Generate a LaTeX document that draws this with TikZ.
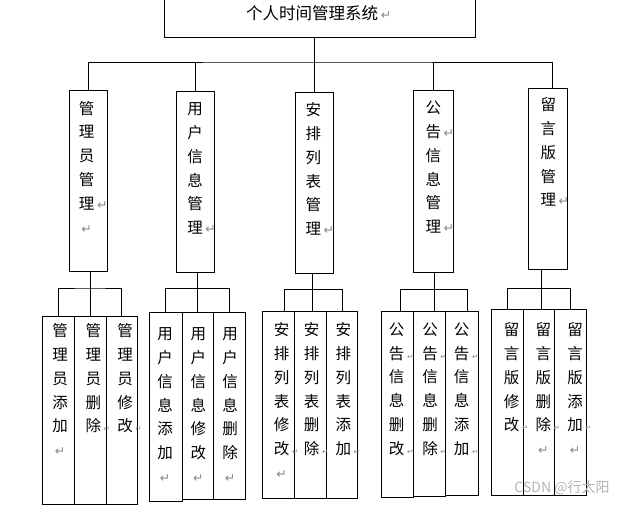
\documentclass[tikz,border=0pt]{standalone}
\usepackage{fontspec}
\setmainfont{Noto Sans CJK SC}
\newfontfamily\markfont{DejaVu Sans}
\usetikzlibrary{positioning,calc}
\definecolor{markgray}{RGB}{135,135,135}
\definecolor{wmgray}{RGB}{180,180,180}
\newcommand{\parmark}{{\markfont\fontsize{12.5}{12.5}\selectfont\textcolor{markgray}{↵}}}
\newcommand{\parend}{\rlap{\,\parmark}}
\newcommand{\parcut}{\rlap{\,{\markfont\fontsize{7.5}{7.5}\selectfont\textcolor{markgray}{↵}}}}
\tikzset{
 sysbox/.style={draw,line width=0.9pt,inner sep=0pt,minimum width=311pt,minimum height=48pt},
 midbox/.style={draw,line width=0.9pt,inner sep=0pt,minimum width=38.5pt,minimum height=181pt},
 leafbox/.style={draw,line width=0.9pt,inner sep=0pt,minimum height=187pt},
 vtext/.style={anchor=north,align=center,inner sep=0pt,font=\fontsize{15.5}{23.8}\selectfont},
 link/.style={line width=0.9pt}
}
\begin{document}
\begin{tikzpicture}[x=1pt,y=-1pt]
\useasboundingbox (0,0) rectangle (626,505);

% top
\node[sysbox] (sys) at (319.5,13) {};
\node[font=\fontsize{16.5}{20}\selectfont] (title) at (312,13) {个人时间管理系统\parend};

% second level
\node[midbox] (m1) at (88.5,180.5) {};
\node[midbox,minimum width=38pt] (m2) at (195.3,182) {};
\node[midbox,minimum width=38pt] (m3) at (314,182.8) {};
\node[midbox,minimum width=40pt,minimum height=182.3pt] (m4) at (433.3,181.2) {};
\node[midbox,minimum width=39pt] (m5) at (547.8,178.8) {};

\node[vtext] (t1) at (86.7,100.8) {管\\理\\员\\管\\理\parend\\\parmark};
\node[vtext] (t2) at (195,102.5) {用\\户\\信\\息\\管\\理\parend};
\node[vtext] (t3) at (313.3,102.5) {安\\排\\列\\表\\管\\理\parend};
\node[vtext] (t4) at (433.3,100.8) {公\\告\parend\\信\\息\\管\\理\parend};
\node[vtext] (t5) at (548.3,97.5) {留\\言\\版\\管\\理\parend};

% leaves
\node[leafbox,minimum width=31.5pt,minimum height=188pt] (l11) at (58.25,410) {};
\node[leafbox,minimum width=32pt,minimum height=188pt] (l12) at (90,410) {};
\node[leafbox,minimum width=31.5pt,minimum height=188pt] (l13) at (121.75,410) {};

\node[leafbox,minimum width=33pt,minimum height=188.7pt] (l21) at (165.8,406.65) {};
\node[leafbox,minimum width=31.2pt,minimum height=186.7pt] (l22) at (197.9,405.65) {};
\node[leafbox,minimum width=31.8pt,minimum height=186.7pt] (l23) at (229.4,405.65) {};

\node[leafbox,minimum width=32pt] (l31) at (278.3,404.5) {};
\node[leafbox,minimum width=32.2pt] (l32) at (310.4,404.5) {};
\node[leafbox,minimum width=31pt] (l33) at (342,404.5) {};

\node[leafbox,minimum width=31.6pt,minimum height=186pt] (l41) at (397.5,404) {};
\node[leafbox,minimum width=32pt,minimum height=185pt] (l42) at (429.3,403.5) {};
\node[leafbox,minimum width=33pt,minimum height=184.5pt] (l43) at (461.8,403.25) {};

\node[leafbox,minimum width=31.6pt,minimum height=186pt] (l51) at (507.5,402) {};
\node[leafbox,minimum width=31pt,minimum height=186pt] (l52) at (538.8,402) {};
\node[leafbox,minimum width=32.4pt,minimum height=186pt] (l53) at (570.5,402) {};

\node[vtext] (t11) at (60,323.5) {管\\理\\员\\添\\加\\\parmark};
\node[vtext] (t12) at (93.3,323.5) {管\\理\\员\\删\\除\parcut};
\node[vtext] (t13) at (125,323.5) {管\\理\\员\\修\\改\parcut};

\node[vtext] (t21) at (165,327.5) {用\\户\\信\\息\\添\\加\\\parmark};
\node[vtext] (t22) at (198.3,327.5) {用\\户\\信\\息\\修\\改\\\parmark};
\node[vtext] (t23) at (230,327.5) {用\\户\\信\\息\\删\\除\\\parmark};

\node[vtext] (t31) at (281.7,322.5) {安\\排\\列\\表\\修\\改\parcut\\\parmark};
\node[vtext] (t32) at (311.7,322.5) {安\\排\\列\\表\\删\\除\parcut};
\node[vtext] (t33) at (343.3,322.5) {安\\排\\列\\表\\添\\加\parcut};

\node[vtext] (t41) at (396.7,322.5) {公\\告\parcut\\信\\息\\删\\改\parcut};
\node[vtext] (t42) at (430,322.5) {公\\告\parcut\\信\\息\\删\\除\parcut};
\node[vtext] (t43) at (461.7,322.5) {公\\告\parcut\\信\\息\\添\\加\parcut};

\node[vtext] (t51) at (511.7,322.5) {留\\言\\版\\修\\改\parcut};
\node[vtext] (t52) at (543.3,322.5) {留\\言\\版\\删\\除\parcut\\\parmark};
\node[vtext] (t53) at (575,322.5) {留\\言\\版\\添\\加\parcut\\\parmark};

% connectors
\coordinate (bus) at (314,62);
\draw[link] (sys.south -| bus) -- (bus |- m3.north);
\draw[link] (m1.north) |- (bus) -| ([xshift=4.5pt]m5.north);
\draw[link] (bus -| m2.north) -- (m2.north);
\draw[link] (bus -| m4.north) -- (m4.north);

\coordinate (j1) at (90,288);
\coordinate (j2) at (197.7,288.5);
\coordinate (j3) at (312.3,289.3);
\coordinate (j4) at (434.3,289.3);
\coordinate (j5) at (541.7,288.3);
\foreach \g in {1,...,5}
  \draw[link] (m\g.south -| j\g) -- (j\g |- l\g2.north);
\draw[link] (l11.north) |- (j1) -| (l13.north);
\draw[link] (l21.north) |- (j2) -| (l23.north);
\draw[link] ([xshift=6pt]l31.north) |- (j3) -| (l33.north);
\draw[link] ([xshift=2.5pt]l41.north) |- (j4) -| ([xshift=5.5pt]l43.north);
\draw[link] (l51.north) |- (j5) -| (l53.north);

\node[font=\fontsize{14}{14}\selectfont,text=wmgray] (mark) at (562,488) {CSDN @行太阳};
\end{tikzpicture}
\end{document}
